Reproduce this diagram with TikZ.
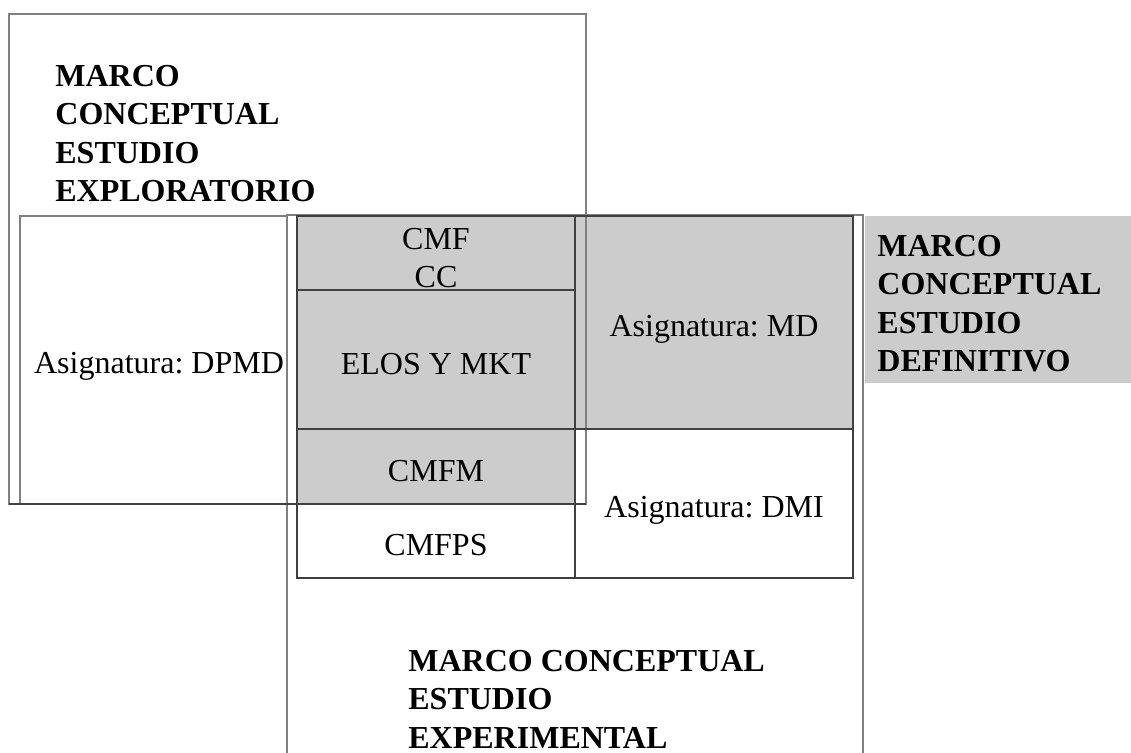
\documentclass[tikz,border=0pt]{standalone}
\usepackage{fontspec}
\setmainfont{Liberation Serif}
\frenchspacing
\begin{document}
\begin{tikzpicture}[x=0.5pt,y=-0.5pt,
    outerline/.style={draw=black!50,line width=0.8pt},
    innerline/.style={draw=black!75,line width=0.8pt},
    shaded/.style={fill=black!20},
    heading/.style={anchor=north west,inner sep=0pt,align=left,
      font=\bfseries\fontsize{16}{19.2}\selectfont},
    celltext/.style={anchor=base,inner sep=0pt,font=\fontsize{16}{19.2}\selectfont}
  ]
  \useasboundingbox (0,0) rectangle (1131,753);
  % gray areas first
  \path[shaded] (865,216) rectangle (1131,383);
  \path[shaded] (297,216) rectangle (575,504);
  \path[shaded] (575,216) rectangle (853,429);
  % outer frames
  \draw[outerline] (9,14) rectangle (586,504);
  \draw[outerline] (287,753) -- (287,215) -- (863,215) -- (863,753);
  \draw[outerline] (20,216) rectangle (287,504);
  % inner cells
  \draw[innerline] (297,216) rectangle (575,504);
  \draw[innerline] (297,290) -- (575,290);
  \draw[innerline] (297,429) -- (575,429);
  \draw[innerline] (297,504) rectangle (575,578);
  \draw[innerline] (575,216) rectangle (853,578);
  \draw[innerline] (575,429) -- (853,429);
  \draw[innerline] (9,504) -- (586,504);
  % texts
  \node[heading] (explo) at (55,65) {MARCO\\CONCEPTUAL\\ESTUDIO\\EXPLORATORIO};
  \node[heading] (defin) at (877,235) {MARCO\\CONCEPTUAL\\ESTUDIO\\DEFINITIVO};
  \node[heading] (exper) at (408,650) {MARCO CONCEPTUAL\\ESTUDIO\\EXPERIMENTAL};
  \node[celltext,anchor=north,align=center] (cmf) at (436,228) {CMF\\CC};
  \node[celltext] (elos) at (436,375) {ELOS Y MKT};
  \node[celltext] (cmfm) at (436,482) {CMFM};
  \node[celltext] (cmfps) at (436,556) {CMFPS};
  \node[celltext] (md) at (714,337) {Asignatura: MD};
  \node[celltext] (dmi) at (714,518) {Asignatura: DMI};
  \node[celltext] (dpmd) at (159,374) {Asignatura: DPMD};
\end{tikzpicture}
\end{document}
